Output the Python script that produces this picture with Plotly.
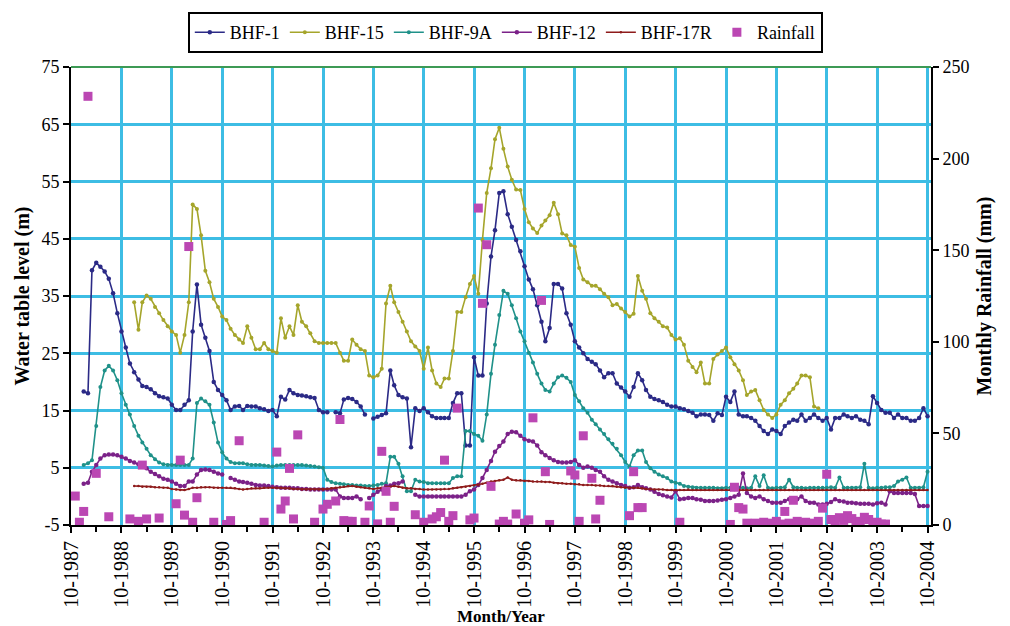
import pandas as pd
import plotly.graph_objects as go

N = None
# Monthly series, Oct-1987 .. Oct-2004 (12 values per row = one Oct..Sep year)
start_month = "1987-10-01"
n_months = 205

bhf1 = [
    N, N, N, 18.3, 18.0, 39.5, 40.8, 40.1, 39.3, 38.0, 35.5, 32.0,
    28.8, 26.0, 23.2, 21.7, 20.4, 19.3, 19.1, 18.7, 18.0, 17.5, 17.3, 17.1,
    16.0, 15.1, 15.1, 16.0, 16.8, 28.8, 37.0, 30.0, 27.7, 25.4, 20.0, 18.6,
    17.7, 16.8, 15.1, 15.7, 15.8, 15.1, 15.8, 15.7, 15.7, 15.4, 15.2, 14.9,
    15.1, 14.0, 17.4, 16.9, 18.6, 18.0, 17.7, 17.6, 17.5, 17.3, 17.2, 15.1,
    14.7, 14.7, N, 14.7, 14.5, 16.9, 17.2, 17.0, 16.5, 15.7, 14.3, N,
    13.6, 13.9, 14.2, 14.5, 22.0, 19.4, 17.7, 17.3, 17.1, 8.6, 15.4, 14.9,
    15.4, 14.7, 14.0, 13.7, 13.7, 13.7, 13.7, 16.3, 18.0, 18.0, 8.9, 8.9,
    24.3, 21.1, 21.1, 33.7, 41.9, 46.5, 53.0, 53.3, 49.3, 47.1, 44.8, 42.8,
    40.2, 37.9, 36.2, 33.4, 30.5, 27.1, 29.4, 37.1, 37.1, 36.3, 32.0, 30.0,
    27.1, 26.0, 25.0, 24.0, 23.5, 23.1, 22.0, 20.8, 21.5, 21.5, 19.7, 19.0,
    18.3, 17.4, 19.1, 21.5, 20.3, 18.6, 17.4, 17.0, 16.8, 16.5, 16.0, 15.7,
    15.7, 15.4, 15.2, 14.9, 14.6, 14.0, 14.3, 14.3, 14.2, 13.2, 14.5, 14.2,
    17.4, 16.5, 18.3, 14.3, 14.0, 14.0, 13.7, 13.2, 12.3, 11.4, 10.9, 11.7,
    11.4, 10.9, 12.3, 12.9, 13.4, 13.2, 14.3, 13.2, 13.7, 14.3, 13.7, 13.2,
    13.7, 11.7, 13.7, 13.7, 14.3, 14.0, 13.7, 14.0, 13.4, 13.2, 12.6, 17.5,
    16.3, 15.1, 14.6, 14.6, 13.7, 14.3, 13.7, 13.7, 13.2, 13.2, 13.7, 15.4,
    14.0,
]

bhf15 = [
    N, N, N, N, N, N, N, N, N, N, N, N,
    N, N, N, 33.9, 29.1, 33.9, 35.1, 34.5, 33.1, 32.0, 30.8, 29.7,
    28.8, 28.2, 25.1, 28.2, 33.9, 51.0, 50.2, 45.6, 39.4, 37.4, 34.5, 33.1,
    31.4, 30.8, 29.3, 28.2, 27.4, 26.8, 29.7, 27.7, 25.7, 25.7, 26.8, 25.7,
    25.4, 25.1, 31.1, 27.7, 29.7, 28.2, 33.4, 30.5, 29.7, 28.5, 27.1, 26.8,
    26.8, 26.8, 26.8, 26.8, 25.1, 23.7, 23.7, 27.4, 26.5, 25.7, 25.4, 21.1,
    20.8, 21.1, 22.3, 33.7, 36.8, 33.9, 32.2, 30.5, 28.8, 27.1, 26.2, 25.4,
    22.3, 26.0, 22.0, 19.7, 19.1, 20.6, 20.6, 25.4, 32.2, 32.2, 34.8, 37.1,
    38.5, 35.4, 44.8, 53.0, 57.3, 62.4, 64.4, 60.7, 57.6, 55.3, 53.6, 53.5,
    50.2, 47.9, 46.8, 46.0, 47.3, 48.2, 49.1, 51.3, 49.3, 45.9, 45.6, 43.9,
    43.6, 39.9, 37.9, 37.4, 36.8, 36.8, 36.2, 35.4, 34.8, 33.4, 33.6, 32.8,
    32.2, 31.4, 31.9, 38.5, 35.9, 34.5, 32.0, 31.1, 30.5, 29.7, 29.5, 28.2,
    27.4, 27.6, 26.5, 23.7, 22.6, 21.7, 23.4, 19.7, 19.7, 24.0, 24.8, 25.4,
    26.0, 24.3, 23.1, 22.0, 20.3, 17.7, 18.3, 18.6, 16.8, 15.1, 14.3, 13.7,
    14.3, 16.0, 16.8, 18.0, 18.8, 19.7, 21.1, 21.1, 20.8, 15.7, 15.4, N,
    N, N, N, N, N, N, N, N, N, N, N, N,
    N, N, N, N, N, N, N, N, N, N, N, N,
    N,
]

bhf9a = [
    N, N, N, 5.5, 5.8, 6.3, 12.3, 19.1, 22.0, 22.8, 22.0, 20.3,
    18.0, 16.0, 14.3, 12.3, 10.6, 9.4, 8.3, 7.2, 6.5, 5.9, 5.6, 5.5,
    5.5, 5.5, 5.5, 5.5, 5.5, 6.6, 16.3, 17.1, 16.6, 16.0, 12.9, 9.4,
    7.7, 6.6, 6.0, 5.8, 5.8, 5.8, 5.6, 5.5, 5.5, 5.5, 5.4, 5.3,
    5.2, 5.4, 5.5, 5.5, 5.5, 5.5, 5.5, 5.5, 5.4, 5.3, 5.2, 5.1,
    5.0, 2.9, 2.5, 2.3, 2.2, 2.1, 2.0, 2.0, 1.9, 1.9, 1.8, 1.8,
    1.9, 2.0, 2.2, 2.3, 6.9, 6.9, 5.7, 3.5, 0.9, 0.9, 2.9, 2.6,
    2.5, 2.3, 2.3, 2.3, 2.3, 2.3, 2.3, 3.2, 3.5, 3.5, 11.4, 11.4,
    10.9, 10.6, 9.7, 14.3, 21.4, 26.5, 31.7, 35.9, 35.4, 33.4, 31.1, 28.8,
    27.1, 25.1, 23.4, 21.4, 19.7, 18.6, 18.3, 19.7, 20.8, 21.1, 20.7, 20.0,
    17.7, 16.6, 15.4, 14.6, 13.4, 12.6, 11.7, 10.9, 10.0, 9.2, 8.3, 7.2,
    6.0, 5.2, 7.2, 8.0, 8.0, 6.0, 4.9, 4.3, 3.8, 3.5, 3.2, 2.6,
    2.4, 2.2, 1.8, 1.7, 1.6, 1.5, 1.5, 1.5, 1.5, 1.5, 1.4, 1.4,
    1.5, 1.5, 1.6, 1.5, 1.5, 1.4, 1.5, 3.5, 1.8, 3.7, 1.5, 1.4,
    1.5, 1.5, 1.6, 2.9, 1.6, 1.5, 1.5, 1.4, 1.5, 1.5, 1.5, 1.5,
    1.5, 1.6, 1.5, 3.3, 1.5, 1.5, 1.5, 1.5, 1.6, 5.7, 1.5, 1.4,
    1.5, 1.5, 1.6, 1.6, 1.8, 2.6, 2.9, 3.3, 1.5, 1.5, 1.5, 1.6,
    4.3,
]

bhf12 = [
    N, N, N, 2.2, 2.4, 4.3, 5.5, 6.6, 7.2, 7.3, 7.3, 7.2,
    6.9, 6.6, 6.2, 5.9, 5.6, 5.5, 4.9, 4.3, 3.9, 3.5, 3.1, 2.9,
    2.6, 2.2, 1.8, 1.8, 2.6, 2.6, 3.8, 4.6, 4.7, 4.6, 4.3, 4.0,
    3.8, N, 3.2, 2.9, 2.6, 2.5, 2.4, 2.2, 2.0, 1.9, 1.9, 1.8,
    1.7, 1.6, 1.5, 1.5, 1.5, 1.4, 1.4, 1.3, 1.3, 1.2, 1.2, 1.2,
    1.2, 1.2, 1.2, 1.2, 0.0, -0.3, -0.3, -0.3, 0.0, -0.5, N, -0.3,
    0.3, 0.8, 1.2, 1.8, 1.9, 2.2, 2.3, 2.6, N, N, 0.3, 0.0,
    0.0, 0.0, 0.0, 0.0, 0.0, 0.0, 0.0, 0.0, 0.0, 0.0, 0.3, 0.9,
    1.2, 2.0, 3.2, 4.6, 6.2, 7.8, 8.8, 9.6, 10.9, 11.3, 11.2, 10.6,
    10.0, 9.7, 9.6, 8.9, 7.7, 7.2, 6.7, 6.3, 6.0, 5.9, 5.9, 6.0,
    6.3, 5.5, 5.0, 5.2, 5.0, 4.6, 4.3, 3.5, 2.9, 2.6, 2.3, 2.0,
    1.8, 1.5, 1.6, 2.0, 1.6, 1.4, 1.2, 0.8, 0.4, 0.2, 0.0, -0.2,
    0.9, -0.5, -0.4, -0.3, -0.3, -0.5, -0.6, -0.8, -0.8, -0.8, -0.7, -0.6,
    -0.5, -0.3, 0.0, 0.3, 4.0, 0.6, 0.0, -0.3, 0.0, -0.5, -0.8, -1.1,
    -1.1, -1.1, -0.8, -0.5, -0.5, -0.5, 0.0, -0.8, -1.1, -1.1, -1.4, -1.4,
    -1.3, -1.0, -0.5, -0.8, -0.9, -1.1, -1.1, -1.2, -1.3, -1.3, -1.3, -1.4,
    -1.2, -1.1, -1.4, 0.9, 0.6, 0.6, 0.6, 0.6, 0.6, 0.4, -1.7, -1.7,
    -1.7,
]

bhf17r = [
    N, N, N, N, N, N, N, N, N, N, N, N,
    N, N, N, 1.8, 1.8, 1.7, 1.7, 1.7, 1.6, 1.6, 1.5, 1.5,
    1.3, 1.2, 1.1, 1.1, 1.3, 1.5, 1.5, 1.6, 1.6, 1.6, 1.5, 1.5,
    1.5, 1.5, 1.5, 1.4, 1.3, 1.2, 1.3, 1.4, 1.4, 1.4, 1.5, 1.5,
    1.5, 1.5, 1.5, 1.4, 1.4, 1.3, 1.3, 1.2, 1.2, 1.2, 1.2, 1.2,
    1.2, 1.3, 1.4, 1.5, 1.6, 1.7, 1.8, 1.8, 1.7, 1.6, 1.5, 1.4,
    1.3, 1.4, 1.5, 1.6, 1.7, 1.8, 1.7, 1.5, 1.4, 1.4, 1.3, 1.3,
    1.2, 1.2, 1.2, 1.2, 1.2, 1.3, 1.3, 1.4, 1.5, 1.6, 1.7, 1.8,
    1.9, 2.0, 2.2, 2.4, 2.6, 2.7, 2.8, 2.9, 3.3, 2.9, 2.8, 2.8,
    2.7, 2.7, 2.6, 2.6, 2.6, 2.5, 2.5, 2.4, 2.3, 2.3, 2.2, 2.2,
    2.1, 2.1, 2.0, 2.0, 2.0, 1.9, 1.9, 1.8, 1.8, 1.8, 1.7, 1.6,
    1.5, 1.5, 1.5, 1.5, 1.4, 1.3, 1.3, 1.2, 1.2, 1.2, 1.1, 1.1,
    1.1, 1.1, 1.1, 1.2, 1.1, 1.1, 1.1, 1.1, 1.1, 1.1, 1.1, 1.1,
    1.1, 1.1, 1.1, 1.1, 1.1, 1.1, 1.1, 1.1, 1.1, 1.1, 1.1, 1.1,
    1.1, 1.1, 1.1, 1.1, 1.1, 1.1, 1.1, 1.1, 1.1, 1.1, 1.1, 1.1,
    1.1, 1.1, 1.1, 1.1, 1.1, 1.1, 1.1, 1.1, 1.1, 1.1, 1.1, 1.1,
    1.1, 1.1, 1.1, 1.1, 1.1, 1.1, 1.1, 1.1, 1.1, 1.1, 1.1, 1.1,
    1.1,
]

rainfall = [
    N, 15.8, 1.5, 7.4, 234, N, 28.2, N, N, 4.5, N, N,
    N, N, 3.3, N, 2.0, 32.7, 3.3, N, N, 3.8, N, N,
    N, 11.6, 35.4, 5.4, 152, 1.5, 14.9, N, N, N, 1.5, N,
    N, 0.3, 2.4, N, 46, N, N, N, N, N, 1.5, N,
    N, 39.8, 8.7, 13.1, 30.9, 3.3, 49.2, N, N, N, 1.5, N,
    8.7, 11.3, N, 13.1, 57.6, 2.4, 2.0, 2.0, N, N, 1.5, 10.4,
    N, 0.6, 40.2, 18.4, 1.5, 10.2, N, N, N, N, 5.6, N,
    1.5, N, 3.3, 4.5, 6.8, 35.4, 2.0, 5.1, 63.8, N, N, 2.8,
    3.8, 173, 121, 153, 21.1, N, 0.5, 2.0, 0.5, N, 6.0, N,
    1.0, 2.8, 58.5, N, 122.6, 29.1, 0.3, N, N, N, N, 29.5,
    27.3, 2.0, 48.7, N, 25.5, 3.3, 13.5, N, N, N, N, N,
    N, 5.1, 29.1, 9.5, 9.5, N, N, N, N, N, N, N,
    N, 1.5, N, N, N, N, N, N, N, N, N, N,
    N, 0.3, 20.6, 9.5, 8.7, 1.0, 0.5, 1.0, 0.5, 1.5, 0.5, 1.0,
    2.0, 0.5, 7.4, 1.0, 13.5, 2.0, 1.0, 1.5, 0.5, 1.0, 2.0, 9.2,
    27.7, 3.0, 1.5, 4.0, 2.5, 5.1, 3.5, 1.0, 2.0, 4.2, 3.0, 1.0,
    1.5, 0.5, 0.5, N, N, N, N, N, N, N, N, N,
    N,
]

tick_years = list(range(1987, 2005))
tick_labels = [f"10-{y}" for y in tick_years]
level_ticks = [-5, 5, 15, 25, 35, 45, 55, 65, 75]
level_labels = ["-5", "5", "15", "25", "35", "45", "55", "65", "75"]
rain_ticks = [0, 50, 100, 150, 200, 250]
rain_labels = ["0", "50", "100", "150", "200", "250"]

months = pd.date_range(start_month, periods=n_months, freq="MS")
tick_vals = [f"{y}-10-01" for y in tick_years]
minor_vals = [f"{y}-04-01" for y in range(1988, 2005)]

SERIF = "Liberation Serif, Times New Roman, Times, serif"
GRID = "#3dbde4"

fig = go.Figure()
series = [
    ("BHF-1", bhf1, "#2b2a86", 4.5),
    ("BHF-15", bhf15, "#a5a52b", 4),
    ("BHF-9A", bhf9a, "#1f9189", 4),
    ("BHF-12", bhf12, "#7b2188", 4.5),
    ("BHF-17R", bhf17r, "#8e1b1b", 2.5),
]
for name, vals, color, msize in series:
    fig.add_trace(go.Scatter(
        x=months, y=vals, name=name, mode="lines+markers",
        line=dict(color=color, width=1.6),
        marker=dict(color=color, size=msize, symbol="circle"),
        connectgaps=False, yaxis="y",
    ))

fig.add_trace(go.Scatter(
    x=months, y=rainfall, name="Rainfall", mode="markers",
    marker=dict(color="#bb47b3", size=9, symbol="square"),
    yaxis="y2",
))

fig.update_layout(
    width=1010, height=626,
    margin=dict(l=71, r=79, t=56, b=101),
    paper_bgcolor="white", plot_bgcolor="white",
    font=dict(family=SERIF, size=18, color="black"),
    legend=dict(
        orientation="h", x=0.505, xanchor="center", y=1.12, yanchor="top",
        bordercolor="black", borderwidth=2, bgcolor="white",
        font=dict(family=SERIF, size=18, color="black"),
        itemwidth=30, tracegroupgap=0,
    ),
    xaxis=dict(
        type="date",
        range=["1987-10-01", "2004-10-26"],
        tickmode="array", tickvals=tick_vals, ticktext=tick_labels,
        tickangle=-90, tickfont=dict(family=SERIF, size=20),
        ticks="outside", ticklen=6, tickcolor="black", tickwidth=1.5,
        showgrid=True, gridcolor=GRID, gridwidth=3,
        showline=True, linecolor="black", linewidth=2,
        minor=dict(tickmode="array", tickvals=minor_vals, ticks="outside",
                   ticklen=5, tickcolor="black", tickwidth=1.5, showgrid=False),
        title=dict(text="<b>Month/Year</b>", font=dict(family=SERIF, size=17),
                   standoff=2),
        automargin=False,
    ),
    yaxis=dict(
        range=[-5, 75], tickmode="array", tickvals=level_ticks, ticktext=level_labels,
        ticks="outside", ticklen=6, tickcolor="black", tickwidth=1.5,
        tickfont=dict(family=SERIF, size=18),
        showgrid=True, gridcolor=GRID, gridwidth=3, zeroline=False,
        showline=True, linecolor="black", linewidth=2,
        title=dict(text="<b>Water table level (m)</b>",
                   font=dict(family=SERIF, size=20), standoff=6),
        automargin=False,
    ),
    yaxis2=dict(
        range=[0, 250], tickmode="array", tickvals=rain_ticks, ticktext=rain_labels,
        overlaying="y", side="right",
        ticks="outside", ticklen=6, tickcolor="black", tickwidth=1.5,
        tickfont=dict(family=SERIF, size=18),
        showgrid=False, zeroline=False,
        showline=True, linecolor="black", linewidth=2,
        title=dict(text="<b>Monthly Rainfall (mm)</b>",
                   font=dict(family=SERIF, size=20), standoff=8),
        automargin=False,
    ),
    shapes=[dict(type="line", xref="paper", yref="paper", x0=0, x1=1, y0=1, y1=1,
                 line=dict(color="#3d9a55", width=2))],
)

fig.write_html("out.html")
